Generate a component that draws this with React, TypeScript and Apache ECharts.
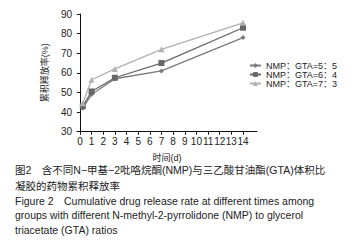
import React, { useEffect, useRef } from "react";
import * as echarts from "echarts";

const times = [0.25, 1, 3, 7, 14];
const seriesNames = ["NMP：GTA=5：5", "NMP：GTA=6：4", "NMP：GTA=7：3"];
const s55 = [42, 49, 57, 61, 78];
const s64 = [43, 50.5, 57.5, 65, 83];
const s73 = [44.5, 56.5, 62, 72, 85.5];
const xTicks = [0, 1, 2, 3, 4, 5, 6, 7, 8, 9, 10, 11, 12, 13, 14];
const yName = "累积释放率(%)";
const xName = "时间(d)";
const captions = [
  "图2　含不同N−甲基−2吡咯烷酮(NMP)与三乙酸甘油酯(GTA)体积比",
  "凝胶的药物累积释放率",
  "Figure 2　Cumulative drug release rate at different times among",
  "groups with different N-methyl-2-pyrrolidone (NMP) to glycerol",
  "triacetate (GTA) ratios",
];
const captionY = [170, 185.5, 200.5, 215, 229.5];

const FONT = "'Liberation Sans', Arial, 'Noto Sans CJK SC', sans-serif";

export default function App() {
  const ref = useRef<HTMLDivElement>(null);
  useEffect(() => {
    if (!ref.current) return;
    const chart = echarts.init(ref.current, undefined, { renderer: "svg" });
    const mk = (d: number[]) => d.map((v, i) => [times[i], v]);
    chart.setOption({
      animation: false,
      textStyle: { fontFamily: FONT },
      grid: { left: 77, right: 100, top: 14, bottom: 116.3, containLabel: false, outerBoundsMode: "none" },
      xAxis: {
        type: "value",
        min: -0.25,
        max: 15.2,
        name: xName,
        nameLocation: "middle",
        nameGap: 22,
        nameTextStyle: { fontSize: 9, color: "#222", fontFamily: FONT },
        axisLine: { show: true, lineStyle: { color: "#111", width: 1 } },
        axisTick: { show: true, length: 3, customValues: xTicks, lineStyle: { color: "#111" } },
        axisLabel: { customValues: xTicks, fontSize: 10, color: "#222", margin: 5, fontFamily: FONT },
        splitLine: { show: false },
      },
      yAxis: {
        type: "value",
        min: 30,
        max: 90,
        interval: 10,
        name: yName,
        nameLocation: "middle",
        nameGap: 23,
        nameTextStyle: { fontSize: 9, color: "#222", fontFamily: FONT },
        axisLine: { show: true, lineStyle: { color: "#111", width: 1 } },
        axisTick: { show: true, length: 3, lineStyle: { color: "#111" } },
        axisLabel: { fontSize: 10, color: "#222", margin: 5, fontFamily: FONT },
        splitLine: { show: false },
      },
      legend: {
        orient: "vertical",
        left: 249,
        top: 61,
        itemWidth: 11,
        itemHeight: 6,
        itemGap: 0,
        padding: 0,
        textStyle: { fontSize: 9, lineHeight: 8, color: "#222", fontFamily: FONT },
        data: seriesNames,
      },
      series: [
        {
          name: seriesNames[0],
          type: "line",
          data: mk(s55),
          symbol: "diamond",
          symbolSize: 5,
          lineStyle: { color: "#7a7a7a", width: 1.3 },
          itemStyle: { color: "#7a7a7a" },
          z: 2,
        },
        {
          name: seriesNames[1],
          type: "line",
          data: mk(s64),
          symbol: "rect",
          symbolSize: 6,
          lineStyle: { color: "#666", width: 1.3 },
          itemStyle: { color: "#666" },
          z: 3,
        },
        {
          name: seriesNames[2],
          type: "line",
          data: mk(s73),
          symbol: "triangle",
          symbolSize: 6,
          lineStyle: { color: "#b0b0b0", width: 1.3 },
          itemStyle: { color: "#b0b0b0" },
          z: 4,
        },
      ],
      graphic: captions.map((t, i) => ({
        type: "text",
        x: 15,
        y: captionY[i],
        style: { text: t, fontSize: 10.5, fill: "#222", fontFamily: FONT, verticalAlign: "middle" },
      })),
    });
    return () => chart.dispose();
  }, []);
  return (
    <div
      ref={ref}
      style={{ position: "fixed", left: 0, top: 0, width: 357, height: 248, background: "#fff" }}
    />
  );
}
